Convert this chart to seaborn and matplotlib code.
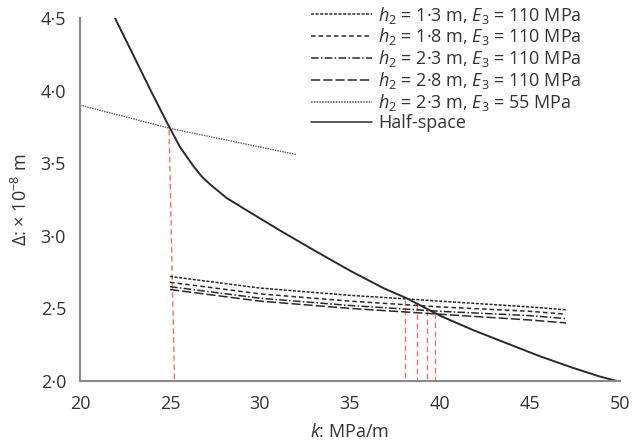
import numpy as np
import pandas as pd
import matplotlib
matplotlib.use("Agg")
import matplotlib.pyplot as plt
import seaborn as sns

# ---- data ----
k_lay = [25, 30, 35, 40, 45, 47]
d_h13 = [2.72, 2.64, 2.59, 2.55, 2.51, 2.49]
d_h18 = [2.68, 2.60, 2.55, 2.51, 2.48, 2.46]
d_h23 = [2.65, 2.57, 2.52, 2.48, 2.45, 2.43]
d_h28 = [2.63, 2.55, 2.50, 2.46, 2.42, 2.40]
k_e55 = [20, 25, 32]
d_e55 = [3.90, 3.74, 3.56]
k_half = [21.94, 22.96, 23.89, 24.81, 25.56, 26.30, 26.75, 27.22, 28.15, 29.07,
          30.0, 31.2, 33.15, 35.0, 36.85, 38.15, 40.0, 41.85, 43.7, 45.56,
          47.4, 48.9, 50.0]
d_half = [4.50, 4.245, 4.01, 3.785, 3.61, 3.48, 3.41, 3.355, 3.26, 3.19,
          3.12, 3.03, 2.89, 2.76, 2.64, 2.57, 2.45, 2.35, 2.26, 2.17,
          2.09, 2.03, 1.995]
# intersection markers (k top, delta top, k bottom)
cross_k_top = [24.95, 38.06, 38.74, 39.30, 39.72]
cross_k_bot = [25.25, 38.06, 38.74, 39.30, 39.72]
cross_d = [3.73, 2.56, 2.52, 2.49, 2.47]

labels = [r"$h_2$ = 1·3 m, $E_3$ = 110 MPa",
          r"$h_2$ = 1·8 m, $E_3$ = 110 MPa",
          r"$h_2$ = 2·3 m, $E_3$ = 110 MPa",
          r"$h_2$ = 2·8 m, $E_3$ = 110 MPa",
          r"$h_2$ = 2·3 m, $E_3$ = 55 MPa",
          "Half-space"]
xticks = [20, 25, 30, 35, 40, 45, 50]
yticks = [2.0, 2.5, 3.0, 3.5, 4.0, 4.5]

sns.set_theme(style="white")
plt.rcParams['font.family'] = ['Open Sans', 'DejaVu Sans']
plt.rcParams['mathtext.fontset'] = 'custom'
plt.rcParams['mathtext.rm'] = 'Open Sans'
plt.rcParams['mathtext.it'] = 'Open Sans:italic'

fig = plt.figure(figsize=(6.32, 4.46), dpi=100)
ax = fig.add_axes([80/632, 1-381/446, 540/632, 363/446])

lc = "#2a2a2a"
red = "#ec7565"
for kt, kb, d in zip(cross_k_top, cross_k_bot, cross_d):
    ax.plot([kt, kb], [d, 2.0], color=red, lw=1.0, dashes=(4, 2.5), zorder=1)

series = [
    (k_lay, d_h13, (2, 1), 1.1, lc),
    (k_lay, d_h18, (3, 2), 1.1, lc),
    (k_lay, d_h23, (5, 1.5, 1, 1.5), 1.1, lc),
    (k_lay, d_h28, (6, 2), 1.1, lc),
    (k_e55, d_e55, (1, 0.8), 1.0, "#555555"),
]
for (xs, ys, ds, lw, c), lab in zip(series, labels[:5]):
    sns.lineplot(x=xs, y=ys, ax=ax, color=c, lw=lw, label=lab)
    ax.lines[-1].set_dashes(ds)
sns.lineplot(x=k_half, y=d_half, ax=ax, color=lc, lw=1.4, label=labels[5])

ax.set_xlim(20, 50)
ax.set_ylim(2.0, 4.5)
ax.set_xticks(xticks)
ax.set_yticks(yticks)
ax.set_xticklabels([str(v) for v in xticks])
ax.set_yticklabels([f"{v:.1f}".replace(".", "·") for v in yticks])
ax.tick_params(direction="in", length=6, width=1.3, color="#8a8a8a",
               labelsize=13, labelcolor="#333333")
ax.tick_params(axis="x", pad=10)
ax.tick_params(axis="y", pad=10)
for s in ["top", "right"]:
    ax.spines[s].set_visible(False)
for s in ["left", "bottom"]:
    ax.spines[s].set_color("#8a8a8a")
    ax.spines[s].set_linewidth(1.5)
ax.set_xlabel(r"$k$: MPa/m", fontsize=13, color="#333333", labelpad=7)
ax.set_ylabel(r"Δ: × 10$^{-8}$ m", fontsize=13, color="#333333", labelpad=7)

leg = ax.legend(loc="upper left", bbox_to_anchor=(302/632, 1.01),
                bbox_transform=fig.transFigure, frameon=False, fontsize=13,
                handlelength=3.4, handletextpad=0.3, labelspacing=0.05,
                borderpad=0, labelcolor="#333333")
for h in leg.get_lines():
    h.set_linewidth(1.1)

fig.savefig("out.png", dpi=100)
